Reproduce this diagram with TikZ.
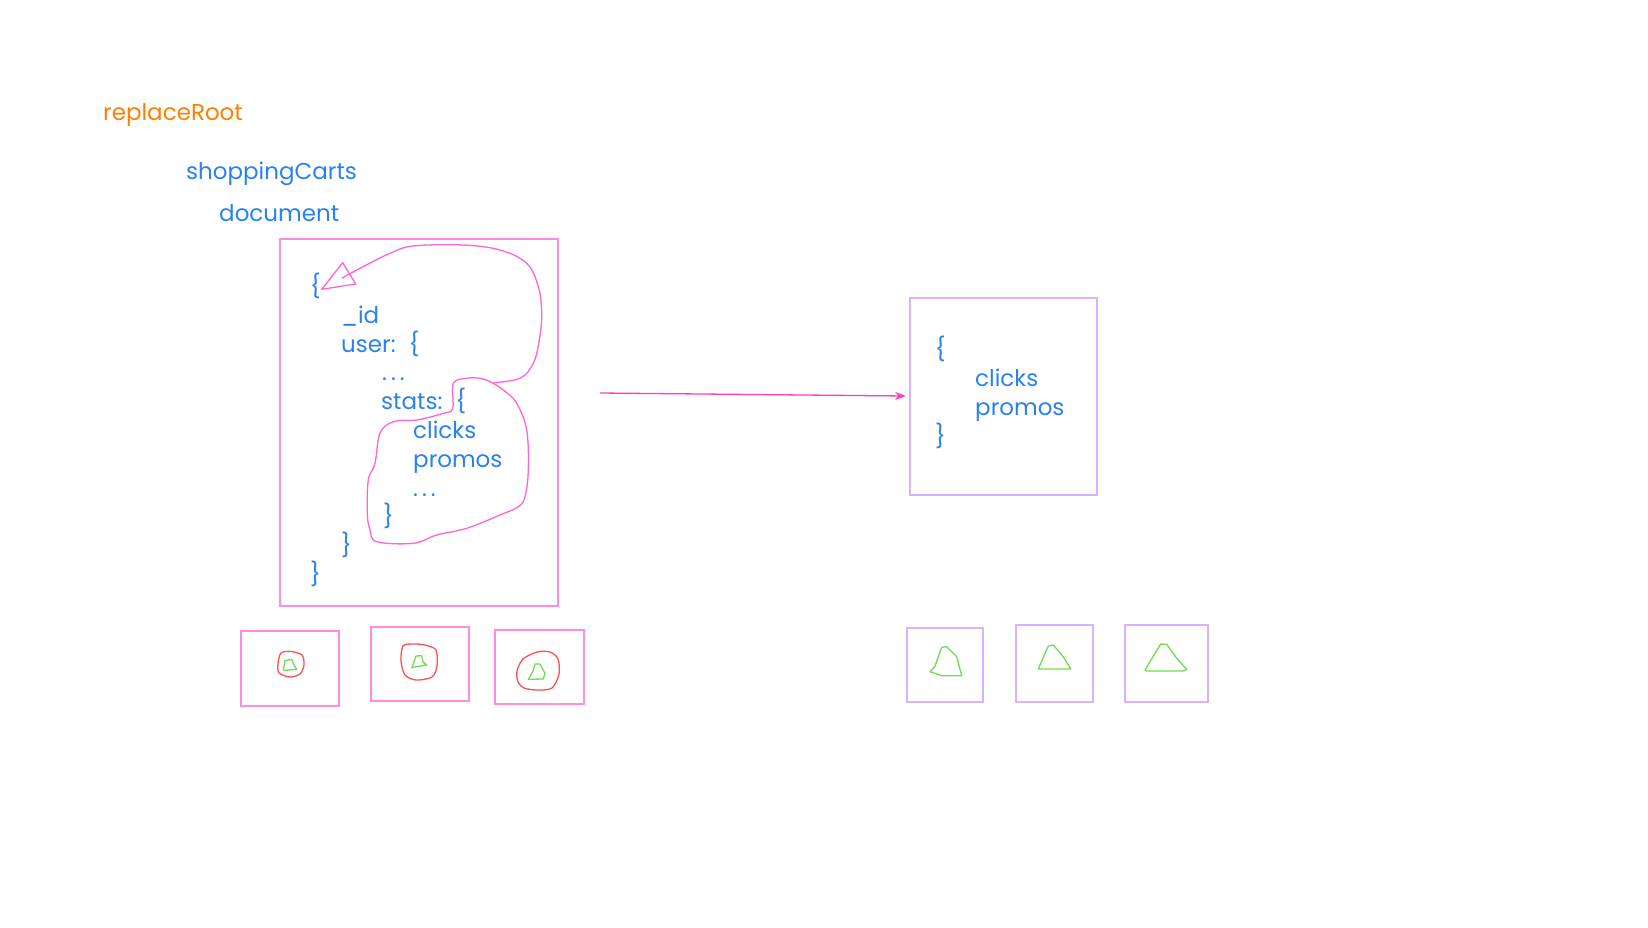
\documentclass[tikz,border=0pt]{standalone}
\usepackage{fontspec}
\setmainfont{Poppins}
\usetikzlibrary{arrows.meta}
\definecolor{txtblue}{RGB}{40,130,240}
\definecolor{txtorange}{RGB}{255,128,0}
\definecolor{boxpink}{RGB}{255,140,220}
\definecolor{curvepink}{RGB}{255,100,210}
\definecolor{arrowpink}{RGB}{255,60,190}
\definecolor{boxpurple}{RGB}{215,180,255}
\definecolor{blobred}{RGB}{255,80,80}
\definecolor{sketchgreen}{RGB}{110,220,80}
\newcommand{\spdots}{.\hspace{4pt}.\hspace{4pt}.}
\newcommand{\obr}{\hspace{5pt}\{}
\tikzset{
  lbl/.style={anchor=base west, inner sep=0pt, text=txtblue, font=\fontsize{23}{27}\selectfont},
  pinkbox/.style={draw=boxpink, line width=1.8pt},
  purplebox/.style={draw=boxpurple, line width=1.8pt},
  freehand/.style={draw=curvepink, line width=1.3pt, line join=round},
  blob/.style={draw=blobred, line width=1.3pt},
  tri/.style={draw=sketchgreen, line width=1.3pt, line join=round},
}
\begin{document}
\begin{tikzpicture}[x=1pt,y=-1pt]
\useasboundingbox (0,0) rectangle (1648,927);

% titles
\node[lbl, text=txtorange] (title) at (103,120.5) {replaceRoot};
\node[lbl] (coll) at (186,179) {shoppingCarts};
\node[lbl] (doc) at (219,221.5) {document};

% left document box
\draw[pinkbox] (280,239) rectangle (558,606);
\node[lbl] (l0) at (310,294) {\{};
\node[lbl] (l1) at (341,323) {\_id};
\node[lbl] (l2) at (341,352) {user: \obr};
\node[lbl] (l3) at (382,380.5) {\spdots};
\node[lbl] (l4) at (381,409.5) {stats: \obr};
\node[lbl] (l5) at (413,438) {clicks};
\node[lbl] (l6) at (413,467) {promos};
\node[lbl] (l7) at (413,496) {\spdots};
\node[lbl] (l8) at (383,524.5) {\}};
\node[lbl] (l9) at (341,553.5) {\}};
\node[lbl] (l10) at (310,582.5) {\}};

% freehand loop with arrow head
\draw[freehand] (321.7,289.3) -- (342.7,262.7) -- (355.7,284) -- cycle;
\draw[freehand] plot[smooth, tension=0.6] coordinates {
 (341.7,278.3) (360,268.3) (390,253.3) (413.3,246) (463.3,245) (500,250)
 (526.7,263.3) (538.3,286.7) (541.7,313.3) (539.3,340) (533.3,363.3)
 (520,378.3) (493.3,382.7)};
\draw[freehand] plot[smooth cycle, tension=0.6] coordinates {
 (490,381.7) (480,378.3) (466.7,378.3) (453.3,383.3) (452.7,408.3)
 (443.3,413.3) (416.7,420) (393.3,421.7) (380,433.3) (375,463.3)
 (368.3,480) (367.3,513.3) (370,530) (376.7,541.7) (413.3,543.3)
 (436.7,535) (466.7,528.3) (500,515) (518.3,506.7) (525,496.7)
 (528.3,470) (526.7,430) (516.7,403.3) (503.3,390)};

% arrow
\coordinate (as) at (600,393);
\coordinate (ae) at (906,396);
\draw[arrowpink, line width=1.3pt, -{Stealth[length=11pt,width=8pt]}] (as) -- (ae);

% right result box
\draw[purplebox] (910,298) rectangle (1097,495);
\node[lbl] (r0) at (935,357) {\{};
\node[lbl] (r1) at (975,386.5) {clicks};
\node[lbl] (r2) at (975,415.5) {promos};
\node[lbl] (r3) at (935,444) {\}};

% small left boxes
\draw[pinkbox] (241,631) rectangle (339,706);
\draw[blob] plot[smooth cycle] coordinates {(278,664) (281,653) (291,651.5) (302,655) (304,665) (300,674) (290,677) (279,673)};
\draw[tri] (283.3,670) -- (285,660.7) -- (291.7,659.3) -- (294,665) -- (296.7,669.3) -- (283.3,670.5);

\draw[pinkbox] (371,627) rectangle (469,701);
\draw[blob] plot[smooth cycle] coordinates {(401,661) (403,646) (413,644) (425,645) (436,650) (437,666) (432,677) (416,680) (405,675)};
\draw[tri] (411.7,668.3) -- (416,656) -- (421.7,655.7) -- (423,662) -- (426.7,665) -- (412,667.5);

\draw[pinkbox] (495,630) rectangle (584,704);
\draw[blob] plot[smooth cycle] coordinates {(517,671) (523,659) (537,652) (550,652) (558,659) (559,674) (552,688) (537,690) (524,688) (518,682)};
\draw[tri] (528.3,679.3) -- (533,671) -- (535,664) -- (540,664) -- (545,673.3) -- (543.3,679) -- cycle;

% small right boxes
\draw[purplebox] (907,628) rectangle (983,702);
\draw[tri] (930,671.7) -- (935,666) -- (941.7,647.3) -- (946.7,646.7) -- (956.7,656.7) -- (961.7,675.7) -- (941.7,675.7) -- cycle;

\draw[purplebox] (1016,625) rectangle (1093,702);
\draw[tri] (1038.3,669) -- (1048.3,646) -- (1053.3,645) -- (1063.3,656.7) -- (1070.7,669) -- cycle;

\draw[purplebox] (1125,625) rectangle (1208,702);
\draw[tri] (1145,670) -- (1155,653.3) -- (1160.7,644) -- (1166.7,644.3) -- (1176.7,658.3) -- (1186.7,669.3) -- (1183.3,671) -- (1146.7,671) -- cycle;
\end{tikzpicture}
\end{document}
